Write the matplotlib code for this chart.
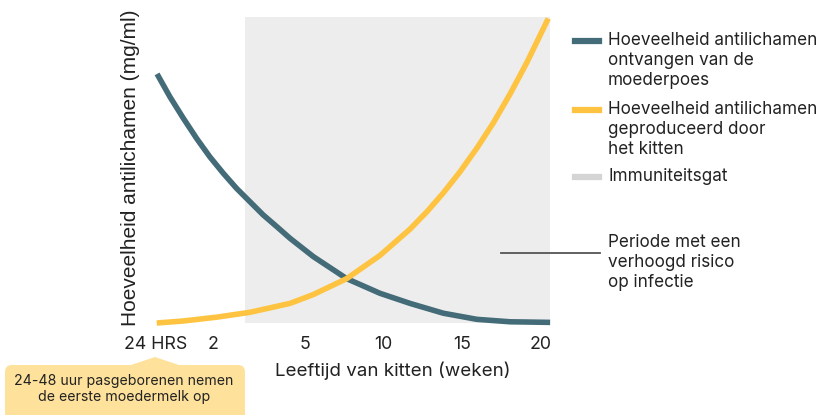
import matplotlib.pyplot as plt
import matplotlib.transforms as mtransforms
from matplotlib.lines import Line2D
from matplotlib.patches import FancyBboxPatch, Polygon
import numpy as np

# age in weeks (24 hrs ~ 1/7 week) and antibody level (relative, 0-100)
maternal_weeks = [0.18, 0.60, 1.03, 1.47, 1.90, 2.34, 2.77, 3.21, 3.64, 4.08, 4.51,
                  5.53, 7.65, 9.77, 11.68, 13.79, 15.92, 18.03, 20.58]
maternal_level = [81.4, 73.9, 67.0, 60.3, 54.3, 48.9, 44.0, 39.6, 35.3, 31.5, 27.7,
                  21.7, 14.5, 9.7, 6.4, 3.2, 1.2, 0.4, 0.2]

kitten_weeks = [0.17, 1.03, 2.12, 3.21, 4.51, 5.53, 7.65, 9.77, 11.68, 12.32, 12.74, 13.79,
                14.85, 15.92, 16.97, 18.03, 19.09, 20.46]
kitten_level = [0.0, 0.65, 1.9, 3.5, 6.4, 9.3, 14.5, 22.1, 30.7, 34.1, 36.3, 42.5,
                49.4, 57.1, 65.4, 74.8, 85.0, 99.5]

# immunity gap
gap_start = 3.06
gap_end = 20.6

tick_weeks = [1/7, 2, 5, 10, 15, 20]
tick_labels = ["24 HRS", "2", "5", "10", "15", "20"]

legend_labels = [
    "Hoeveelheid antilichamen\nontvangen van de\nmoederpoes",
    "Hoeveelheid antilichamen\ngeproduceerd door\nhet kitten",
    "Immuniteitsgat",
]

dark = "#446b78"
yellow = "#fec441"
gap_grey = "#ededed"
text_col = "#222222"

plt.rcParams['font.family'] = ['Inter', 'DejaVu Sans']

W, H = 819, 415
fig = plt.figure(figsize=(W / 100, H / 100), dpi=100)

# pixel coords (origin top-left) -> figure coords
px = mtransforms.Affine2D().scale(1 / W, -1 / H).translate(0, 1) + fig.transFigure

ax = fig.add_axes([150 / W, 1 - 323 / H, 405 / W, 306 / H])

# first weeks are stretched out compared to the rest of the axis
bw = [-20, 5, 60]
bp = [5 - 25 * 30.68 / 15.73, 5, 5 + 55]
ax.set_xscale('function', functions=(lambda w: np.interp(w, bw, bp),
                                     lambda p: np.interp(p, bp, bw)))
ax.set_xlim(-0.05, 20.89)
ax.set_ylim(0, 100)

ax.axvspan(gap_start, gap_end, color=gap_grey, lw=0, zorder=0)
ax.plot(maternal_weeks, maternal_level, color=dark, lw=4.0, solid_capstyle='butt',
        solid_joinstyle='round', clip_on=False, zorder=2)
ax.plot(kitten_weeks, kitten_level, color=yellow, lw=4.0, solid_capstyle='butt',
        solid_joinstyle='round', clip_on=False, zorder=3)

for s in ax.spines.values():
    s.set_visible(False)
ax.set_yticks([])
ax.set_xticks(tick_weeks, tick_labels)
ax.tick_params(axis='x', length=0, pad=9, labelsize=12.8, labelcolor=text_col)

ax.set_xlabel("Leeftijd van kitten (weken)", fontsize=13.5, color=text_col)
ax.xaxis.set_label_coords((393 - 150) / 405, -(371 - 323) / 306)
ax.xaxis.label.set_va('center')

ax.set_ylabel("Hoeveelheid antilichamen (mg/ml)", fontsize=15, color=text_col,
              family=['Liberation Sans', 'DejaVu Sans'])
ax.yaxis.set_label_coords(-(150 - 131) / 405, 0.508)
ax.yaxis.label.set_va('center')

# legend drawn by hand so the handle sits on the first line of each label
handle_y = [41, 110, 177]
handle_cols = [dark, yellow, "#d4d4d4"]
for y, c, lab in zip(handle_y, handle_cols, legend_labels):
    fig.add_artist(Line2D([575, 599], [y, y], transform=px, color=c, lw=4.5))
    fig.text(608, y - 9, lab, transform=px, fontsize=12.3, color=text_col,
             va='top', ha='left', linespacing=1.24)

# risk period callout
fig.add_artist(Line2D([501, 600], [253, 253], transform=px, color="#555555", lw=1.3))
fig.text(608, 234, "Periode met een\nverhoogd risico\nop infectie", transform=px,
         fontsize=12.3, color=text_col, va='top', ha='left', linespacing=1.24)

# note under the 24 HRS tick
box_col = "#fee29c"
fig.add_artist(FancyBboxPatch((5, 365), 240, 60, boxstyle="round,pad=0,rounding_size=7",
                              transform=px, fc=box_col, ec='none'))
fig.add_artist(Polygon([(128, 366), (155, 357), (182, 366)], closed=True,
                       transform=px, fc=box_col, ec='none'))
fig.text(124, 389, "24-48 uur pasgeborenen nemen\nde eerste moedermelk op", transform=px,
         fontsize=10.2, color=text_col, ha='center', va='center', linespacing=1.27)

fig.savefig("out.png", dpi=100)
